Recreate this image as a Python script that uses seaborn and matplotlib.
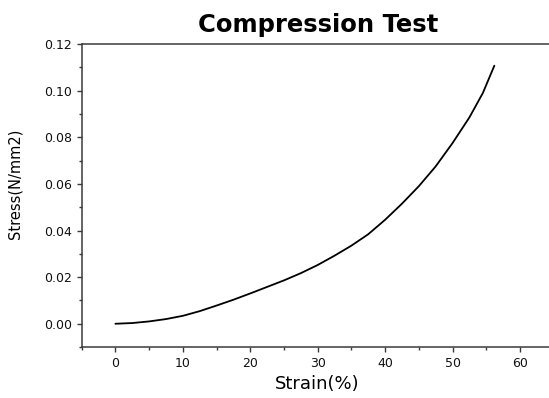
import matplotlib
matplotlib.use("Agg")
import matplotlib.pyplot as plt
from matplotlib.ticker import MultipleLocator
import seaborn as sns
import pandas as pd

strain = [0, 2.5, 5, 7.5, 10, 12.5, 15, 17.5, 20, 22.5, 25, 27.5, 30, 32.5,
          35, 37.5, 40, 42.5, 45, 47.5, 50, 52.5, 54.5, 56.2]
stress = [0.0, 0.0003, 0.0010, 0.0020, 0.0034, 0.0054, 0.0078, 0.0103, 0.0130,
          0.0158, 0.0186, 0.0217, 0.0252, 0.0292, 0.0335, 0.0384, 0.0446,
          0.0515, 0.0590, 0.0675, 0.0775, 0.0885, 0.0990, 0.1107]
x_ticks = [0, 10, 20, 30, 40, 50, 60]
y_ticks = [0.00, 0.02, 0.04, 0.06, 0.08, 0.10, 0.12]

sns.set_style("white")
plt.rcParams['font.family'] = ['DejaVu Sans']
plt.rcParams['text.color'] = 'black'
plt.rcParams['axes.labelcolor'] = 'black'

df = pd.DataFrame({"Strain": strain, "Stress": stress})

fig = plt.figure(figsize=(5.49, 3.98), dpi=100)
ax = fig.add_axes([0.1488, 0.128, 0.8597, 0.7614])
sns.lineplot(data=df, x="Strain", y="Stress", ax=ax, color="black", linewidth=1.3, sort=False)

ax.set_xlim(-5, 65)
ax.set_ylim(-0.01, 0.12)
ax.set_xticks(x_ticks)
ax.set_yticks(y_ticks)
ax.set_yticklabels([f"{v:.2f}" for v in y_ticks])
ax.xaxis.set_minor_locator(MultipleLocator(5))
ax.yaxis.set_minor_locator(MultipleLocator(0.01))

spine_c = "#3a3a3a"
for s in ax.spines.values():
    s.set_color(spine_c)
    s.set_linewidth(1.1)
ax.tick_params(which="major", direction="out", length=3.6, width=1.0, color=spine_c,
               labelsize=9, labelcolor="#111111", pad=3.5,
               bottom=True, left=True, top=False, right=False)
ax.tick_params(which="minor", direction="out", length=2.0, width=1.0, color=spine_c,
               bottom=True, left=True, top=False, right=False)

ax.set_xlabel("Strain(%)", fontsize=13, labelpad=4, color="black")
ax.set_ylabel("Stress(N/mm2)", fontsize=10.5, color="black")
ax.yaxis.set_label_coords(-0.125, 0.538)
ax.set_title("Compression Test", fontsize=17.5, fontweight="bold", pad=8.6, color="black")
ax.grid(False)

fig.savefig("out.png", dpi=100)
